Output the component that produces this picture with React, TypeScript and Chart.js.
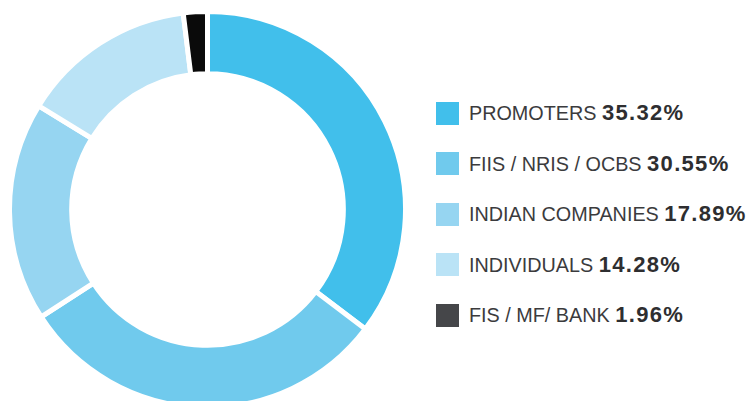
import React, { useEffect, useRef } from "react";
import { Chart, registerables } from "chart.js";

Chart.register(...registerables);

const categories = ["PROMOTERS", "FIIS / NRIS / OCBS", "INDIAN COMPANIES", "INDIVIDUALS", "FIS / MF/ BANK"];
const values = [35.32, 30.55, 17.89, 14.28, 1.96];
const valueLabels = ["35.32%", "30.55%", "17.89%", "14.28%", "1.96%"];
const sliceColors = ["#41BFEB", "#70CAED", "#96D5F1", "#BAE3F6", "#0A0A0A"];
const legendColors = ["#41BFEB", "#70CAED", "#96D5F1", "#BAE3F6", "#454649"];

export default function App() {
  const canvasRef = useRef<HTMLCanvasElement | null>(null);

  useEffect(() => {
    document.body.style.margin = "0";
    const ctx = canvasRef.current;
    if (!ctx) return;
    const chart = new Chart(ctx, {
      type: "doughnut",
      data: {
        labels: categories,
        datasets: [
          {
            data: values,
            backgroundColor: sliceColors,
            borderColor: "#ffffff",
            borderWidth: 5,
            hoverOffset: 0,
          },
        ],
      },
      options: {
        responsive: false,
        animation: false,
        cutout: "68.6%",
        rotation: 0,
        layout: { padding: 0 },
        plugins: {
          legend: { display: false },
          tooltip: { enabled: false },
        },
      },
    });
    return () => chart.destroy();
  }, []);

  return (
    <div
      style={{
        position: "fixed",
        left: 0,
        top: 0,
        width: 754,
        height: 401,
        background: "#ffffff",
        overflow: "hidden",
      }}
    >
      <div style={{ position: "absolute", left: 7, top: 9, width: 401, height: 401 }}>
        <canvas ref={canvasRef} width={401} height={401} style={{ width: 401, height: 401 }} />
      </div>
      {categories.map((c, i) => (
        <div
          key={c}
          style={{
            position: "absolute",
            left: 436,
            top: 101.5 + i * 50.5,
            height: 23,
            display: "flex",
            alignItems: "center",
            whiteSpace: "nowrap",
          }}
        >
          <div style={{ width: 23, height: 23, background: legendColors[i], marginRight: 10 }} />
          <span
            style={{
              fontFamily: "'Liberation Sans', Arial, sans-serif",
              fontSize: 19.8,
              color: "#3b3b3d",
              letterSpacing: 0,
            }}
          >
            {c}{" "}
            <span style={{ fontWeight: 700, fontSize: 22, letterSpacing: 1.3, color: "#2e2e30" }}>
              {valueLabels[i]}
            </span>
          </span>
        </div>
      ))}
    </div>
  );
}
